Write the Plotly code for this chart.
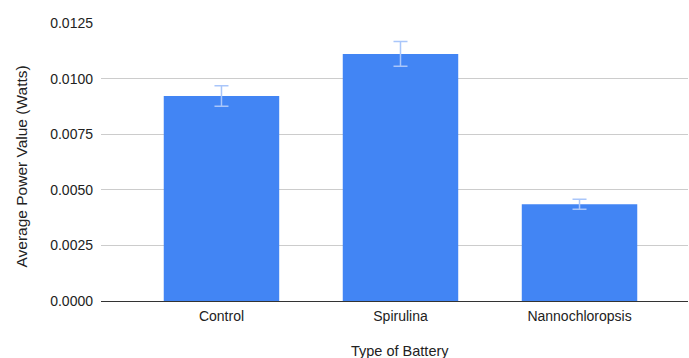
import plotly.graph_objects as go

categories = ["Control", "Spirulina", "Nannochloropsis"]
values = [0.00922, 0.01111, 0.00435]
errors = [0.00046, 0.00056, 0.00023]
y_ticks = [0.0, 0.0025, 0.005, 0.0075, 0.01, 0.0125]
y_tick_labels = ["0.0000", "0.0025", "0.0050", "0.0075", "0.0100", "0.0125"]

W, H = 689, 358
L, R, T, B = 101, 1, 23, 57
pw, ph = W - L - R, H - T - B
FS = 14

fig = go.Figure(go.Bar(
    x=categories, y=values,
    marker=dict(color="#4285F4", line=dict(width=0)),
    width=0.645,
    error_y=dict(type="data", array=errors, visible=True,
                 color="#a9c6fa", thickness=1.5, width=7),
))

fig.update_layout(
    width=W, height=H,
    margin=dict(l=L, r=R, t=T, b=B, pad=0),
    paper_bgcolor="white", plot_bgcolor="white",
    font=dict(family="Liberation Sans, Arial, sans-serif", size=FS, color="#222222"),
    showlegend=False,
    xaxis=dict(range=[-0.673, 2.606], showgrid=False, showline=False,
               zeroline=False, ticks="", tickfont=dict(size=FS, color="#222222"),
               ticklabelstandoff=5),
    yaxis=dict(range=[0, 0.0125], tickvals=y_ticks, ticktext=y_tick_labels,
               showgrid=True, gridcolor="#cccccc", gridwidth=1,
               zeroline=True, zerolinecolor="#333333", zerolinewidth=1,
               showline=False, ticks="", tickfont=dict(size=FS, color="#222222"),
               ticklabelstandoff=7),
    annotations=[
        dict(text="Average Power Value (Watts)", textangle=-90,
             xref="paper", yref="paper", x=(21 - L) / pw, y=(H - B - 166.5) / ph,
             xanchor="center", yanchor="middle", showarrow=False,
             font=dict(size=15.5, color="#222222")),
        dict(text="Type of Battery",
             xref="paper", yref="paper", x=(400 - L) / pw, y=-(351 - (H - B)) / ph,
             xanchor="center", yanchor="middle", showarrow=False,
             font=dict(size=14.5, color="#222222")),
    ],
)

fig.write_html("out.html", post_script="document.body.style.margin='0';",
               config={"displayModeBar": False})
